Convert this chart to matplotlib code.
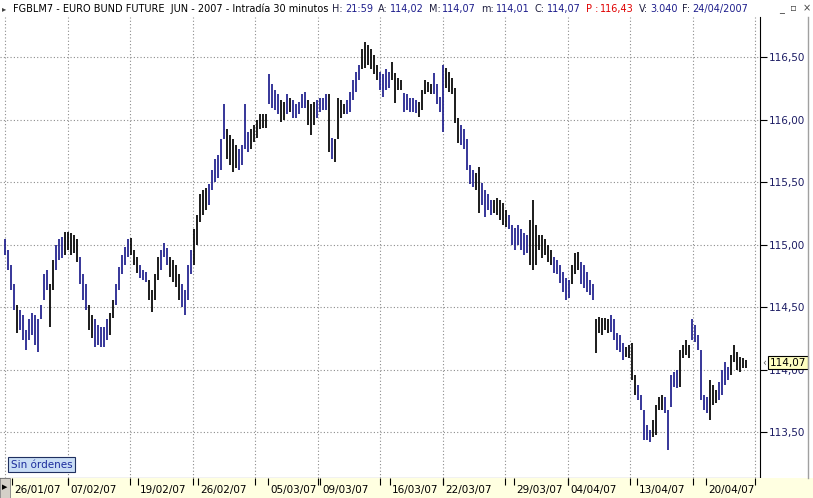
import matplotlib.pyplot as plt
import numpy as np
from matplotlib.patches import Rectangle
from matplotlib.lines import Line2D
from matplotlib.transforms import blended_transform_factory, offset_copy

# 30-minute bars of the Bund future (high / low per bar)
highs = [
    115.04, 114.96, 114.84, 114.68, 114.52, 114.48, 114.44, 114.32, 114.40, 114.45,
    114.44, 114.40, 114.52, 114.76, 114.80, 114.68, 114.88, 115.00, 115.04, 115.06,
    115.10, 115.10, 115.09, 115.08, 115.04, 114.90, 114.76, 114.68, 114.52, 114.44,
    114.40, 114.36, 114.34, 114.34, 114.40, 114.45, 114.56, 114.68, 114.82, 114.92,
    114.98, 115.04, 115.05, 114.96, 114.90, 114.84, 114.80, 114.78, 114.72, 114.64,
    114.76, 114.90, 114.96, 115.01, 114.97, 114.90, 114.88, 114.84, 114.76, 114.68,
    114.64, 114.84, 114.96, 115.12, 115.24, 115.40, 115.44, 115.45, 115.48, 115.60,
    115.68, 115.72, 115.84, 116.12, 115.92, 115.88, 115.84, 115.80, 115.76, 115.80,
    116.12, 115.90, 115.92, 115.96, 116.00, 116.04, 116.04, 116.04, 116.36, 116.28,
    116.24, 116.20, 116.16, 116.14, 116.20, 116.17, 116.16, 116.12, 116.14, 116.20,
    116.22, 116.16, 116.12, 116.14, 116.16, 116.17, 116.17, 116.20, 116.20, 115.85,
    115.84, 116.17, 116.16, 116.12, 116.16, 116.22, 116.32, 116.38, 116.44, 116.56,
    116.62, 116.60, 116.56, 116.52, 116.44, 116.38, 116.36, 116.40, 116.38, 116.46,
    116.37, 116.33, 116.32, 116.21, 116.20, 116.17, 116.17, 116.16, 116.14, 116.24,
    116.32, 116.30, 116.28, 116.37, 116.28, 116.18, 116.44, 116.41, 116.38, 116.33,
    116.25, 116.01, 115.96, 115.92, 115.84, 115.64, 115.60, 115.57, 115.62, 115.49,
    115.44, 115.40, 115.36, 115.36, 115.37, 115.36, 115.33, 115.28, 115.24, 115.16,
    115.13, 115.16, 115.12, 115.09, 115.08, 115.20, 115.36, 115.16, 115.08, 115.08,
    115.04, 115.00, 114.96, 114.90, 114.88, 114.84, 114.78, 114.73, 114.72, 114.84,
    114.93, 114.94, 114.86, 114.84, 114.78, 114.72, 114.68, 114.40, 114.42, 114.41,
    114.41, 114.40, 114.44, 114.40, 114.29, 114.28, 114.21, 114.18, 114.20, 114.21,
    113.96, 113.88, 113.80, 113.68, 113.56, 113.52, 113.60, 113.72, 113.78, 113.80,
    113.78, 113.68, 113.96, 113.98, 114.00, 114.16, 114.20, 114.24, 114.20, 114.40,
    114.36, 114.28, 114.16, 113.80, 113.78, 113.92, 113.88, 113.84, 113.90, 114.00,
    114.06, 114.02, 114.12, 114.20, 114.14, 114.10, 114.09, 114.08,
]
lows = [
    114.92, 114.80, 114.64, 114.48, 114.29, 114.32, 114.24, 114.16, 114.24, 114.28,
    114.20, 114.14, 114.40, 114.56, 114.64, 114.34, 114.64, 114.80, 114.88, 114.89,
    114.92, 114.96, 114.92, 114.93, 114.86, 114.68, 114.56, 114.48, 114.32, 114.25,
    114.18, 114.20, 114.18, 114.18, 114.24, 114.28, 114.41, 114.52, 114.64, 114.76,
    114.84, 114.90, 114.92, 114.84, 114.77, 114.73, 114.72, 114.70, 114.56, 114.46,
    114.56, 114.72, 114.80, 114.90, 114.84, 114.74, 114.70, 114.66, 114.56, 114.50,
    114.44, 114.56, 114.76, 114.84, 115.00, 115.18, 115.24, 115.28, 115.32, 115.44,
    115.50, 115.53, 115.60, 115.84, 115.68, 115.64, 115.58, 115.61, 115.60, 115.64,
    115.76, 115.74, 115.76, 115.82, 115.85, 115.92, 115.93, 115.93, 116.12, 116.09,
    116.08, 116.04, 115.98, 116.00, 116.04, 116.06, 116.01, 116.01, 116.04, 116.09,
    116.09, 115.96, 115.88, 115.96, 116.01, 116.06, 116.08, 116.08, 115.74, 115.68,
    115.66, 115.84, 116.01, 116.04, 116.04, 116.06, 116.16, 116.22, 116.32, 116.40,
    116.41, 116.44, 116.40, 116.36, 116.32, 116.24, 116.18, 116.24, 116.25, 116.32,
    116.13, 116.24, 116.24, 116.06, 116.08, 116.06, 116.06, 116.05, 116.02, 116.08,
    116.20, 116.22, 116.20, 116.20, 116.12, 116.06, 115.90, 116.25, 116.22, 116.20,
    115.97, 115.81, 115.80, 115.76, 115.60, 115.48, 115.46, 115.44, 115.25, 115.32,
    115.22, 115.28, 115.24, 115.25, 115.24, 115.20, 115.16, 115.14, 115.12, 115.00,
    114.96, 115.00, 114.96, 114.92, 114.93, 114.84, 114.80, 114.84, 114.96, 114.89,
    114.92, 114.86, 114.84, 114.77, 114.76, 114.69, 114.62, 114.56, 114.57, 114.68,
    114.76, 114.80, 114.68, 114.65, 114.62, 114.60, 114.56, 114.13, 114.29, 114.28,
    114.32, 114.29, 114.30, 114.24, 114.16, 114.14, 114.08, 114.10, 114.09, 113.92,
    113.80, 113.76, 113.68, 113.44, 113.44, 113.42, 113.46, 113.48, 113.68, 113.68,
    113.65, 113.36, 113.70, 113.86, 113.85, 113.86, 114.09, 114.12, 114.09, 114.24,
    114.22, 114.16, 113.76, 113.68, 113.65, 113.60, 113.72, 113.73, 113.76, 113.80,
    113.88, 113.92, 113.96, 114.06, 114.00, 113.98, 114.01, 114.01,
]
# b = blue bar, k = black bar
bar_colours = (
    "bbbbkbbbbb" "bbbbbkkbbb" "kkkkkbbbkk" "bbbbbkkbbb" "bbkkkbbbkk"
    "kkbbbkkkkb" "bbbkkkkkbb" "bbbbkkkkbb" "bbkkkkkkbb" "bbkkbkbbbb"
    "bkkkbbbbkb" "kkkkbbbbbk" "kkkkkbbbbk" "kkkbbbbbkk" "kkkbbbbkkk"
    "kkbbbbbkkb" "bbbkkkkkbb" "bbbbbkkkkk" "kkkbbbbbbk" "kkbbbbbkkk"
    "kkbbbbbkkk" "kbbbbbkkkk" "bbbbbkkkkb" "bbbbbkkkbb" "bbkkkkkk"
)

date_pos = [2.33, 21, 44.33, 64.33, 87.67, 105, 128.33, 146, 169.67, 187.67, 210.67, 233.67]
date_labels = ["26/01/07", "07/02/07", "19/02/07", "26/02/07", "05/03/07", "09/03/07",
               "16/03/07", "22/03/07", "29/03/07", "04/04/07", "13/04/07", "20/04/07"]
price_ticks = [113.5, 114.0, 114.5, 115.0, 115.5, 116.0, 116.5]
last_close = 114.07

header_title = "FGBLM7 - EURO BUND FUTURE  JUN - 2007 - Intradía 30 minutos"
header_fields = [("H:", "21:59"), ("A:", "114,02"), ("M:", "114,07"), ("m:", "114,01"),
                 ("C:", "114,07"), ("P :", "116,43"), ("V:", "3.040"), ("F:", "24/04/2007")]

BLUE = "#1e1e8c"
NAVY = "#1c1c64"
GRID = "#8c8c8c"

W, H = 813, 498
fig = plt.figure(figsize=(W / 100, H / 100), dpi=100)


def fx(px):
    return px / W


def fy(py):
    return 1 - py / H


def comma(v):
    return f"{v:.2f}".replace(".", ",")


# main price panel
ax = fig.add_axes([0, fy(478), fx(760), fy(17) - fy(478)])
x = np.arange(len(highs))
cols = [BLUE if c == "b" else "black" for c in bar_colours]
ax.vlines(x, lows, highs, colors=cols, linewidth=1.25, zorder=3)
ax.set_xlim(-5 / 3, 755 / 3)
ax.set_ylim(113.132, 116.82)

grid_x = np.arange(13) * 62.5 / 3
for gx in grid_x:
    ax.axvline(gx, color=GRID, lw=0.8, ls=(0, (1, 2)), zorder=1)
for p in price_ticks:
    ax.axhline(p, color=GRID, lw=0.8, ls=(0, (1, 2)), zorder=1)

ax.set_xticks([])
ax.yaxis.tick_right()
ax.set_yticks(price_ticks)
ax.set_yticklabels([comma(p) for p in price_ticks])
ax.tick_params(axis="y", direction="out", length=5, width=0.8, pad=1,
               labelsize=7.5, labelcolor=NAVY)
ax.spines["top"].set_visible(False)
ax.spines["left"].set_visible(False)

# last price marker (sits over the 114,00 label, as in the source)
ax.annotate("‹", xy=(1, last_close), xycoords=("axes fraction", "data"),
            xytext=(2, -2), textcoords="offset pixels", ha="left", va="center",
            fontsize=7, color="#606060", annotation_clip=False)
ax.annotate(comma(last_close), xy=(1, last_close), xycoords=("axes fraction", "data"),
            xytext=(10, -2), textcoords="offset pixels", ha="left", va="center",
            fontsize=7.5, color="black", annotation_clip=False, zorder=5,
            bbox=dict(boxstyle="square,pad=0.15", fc="#ffffc0", ec="black", lw=0.8))

# date strip
dax = fig.add_axes([fx(10), 0, fx(803), fy(478)])
dax.set_facecolor("#ffffe1")
dax.set_xlim((10 - 5) / 3, (813 - 5) / 3)
dax.set_ylim(0, 1)
dax.set_yticks([])
dax.set_xticks(sorted(list(date_pos) + list(grid_x[1:])))
dax.tick_params(axis="x", top=True, bottom=False, direction="in", length=5,
                width=0.8, labelbottom=False)
for s in dax.spines.values():
    s.set_visible(False)
trans = offset_copy(blended_transform_factory(dax.transData, dax.transAxes),
                    fig=fig, x=2, y=0, units="dots")
for pos, lab in zip(date_pos, date_labels):
    dax.text(pos, 0.38, lab, transform=trans, ha="left", va="center",
             fontsize=7.5, color="black")

fig.add_artist(Rectangle((0, 0), fx(10), fy(478), transform=fig.transFigure,
                         facecolor="#d4d0c8", edgecolor="#808080", lw=0.6))
fig.text(fx(5), fy(487), "▶", fontsize=5, ha="center", va="center", color="black")

# price panel border
fig.add_artist(Line2D([fx(808), fx(808)], [fy(478), fy(17)], color="#a0a0a0", lw=1))

# order box
fig.text(fx(11), fy(464.5), "Sin órdenes", fontsize=7.5, color="#1c2c9c",
         ha="left", va="center",
         bbox=dict(boxstyle="square,pad=0.25", fc="#c9ddf5", ec="#203060", lw=0.8))

# header line
fig.text(fx(4), fy(9), "▸", fontsize=6, ha="center", va="center", color="#404040")
t = fig.text(fx(13), fy(9), header_title, fontsize=7, color="black",
             ha="left", va="center")
for i, (lab, val) in enumerate(header_fields):
    red = lab.startswith("P")
    t = ax.annotate(lab, xy=(1, 0.5), xycoords=t, xytext=(5 if i else 4, 0),
                    textcoords="offset pixels", ha="left", va="center", fontsize=7,
                    color="#e00000" if red else "#202040", annotation_clip=False)
    t = ax.annotate(val, xy=(1, 0.5), xycoords=t, xytext=(2, 0),
                    textcoords="offset pixels", ha="left", va="center", fontsize=7,
                    color="#e00000" if red else BLUE, annotation_clip=False)
fig.text(fx(795), fy(9), "_  ▫  ×", fontsize=7, ha="center", va="center",
         color="#404040")

fig.savefig("out.png", dpi=100)
